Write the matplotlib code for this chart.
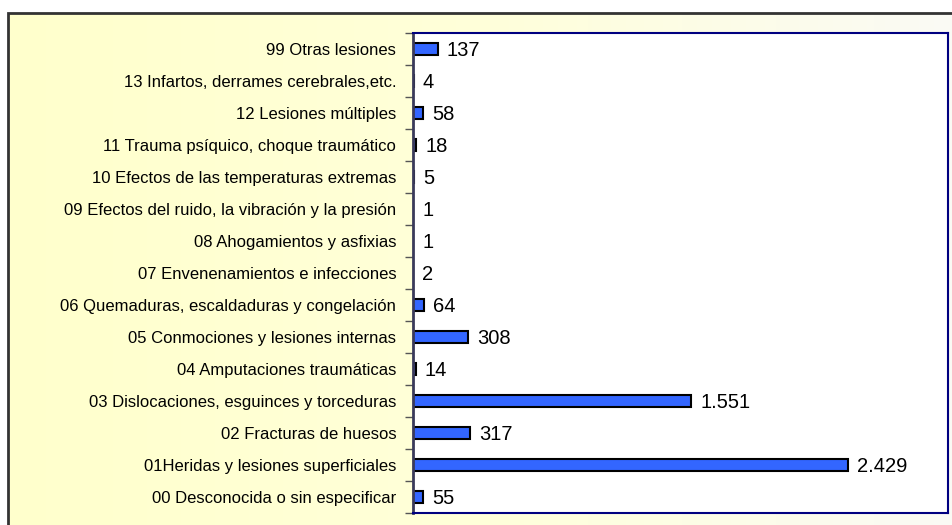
import numpy as np
import matplotlib.pyplot as plt
from matplotlib.colors import LinearSegmentedColormap
from matplotlib.patches import Rectangle

# ─── DATOS ────────────────────────────────────────
categorias = [
    "00 Desconocida o sin especificar",
    "01Heridas y lesiones superficiales",
    "02 Fracturas de huesos",
    "03 Dislocaciones, esguinces y torceduras",
    "04 Amputaciones traumáticas",
    "05 Conmociones y lesiones internas",
    "06 Quemaduras, escaldaduras y congelación",
    "07 Envenenamientos e infecciones",
    "08 Ahogamientos y asfixias",
    "09 Efectos del ruido, la vibración y la presión",
    "10 Efectos de las temperaturas extremas",
    "11 Trauma psíquico, choque traumático",
    "12 Lesiones múltiples",
    "13 Infartos, derrames cerebrales,etc.",
    "99 Otras lesiones",
]
valores = [55, 2429, 317, 1551, 14, 308, 64, 2, 1, 1, 5, 18, 58, 4, 137]
etiquetas = ["55", "2.429", "317", "1.551", "14", "308", "64", "2",
             "1", "1", "5", "18", "58", "4", "137"]

W, H = 953, 525
fig = plt.figure(figsize=(W / 100, H / 100), dpi=100)
plt.rcParams['font.family'] = ['Liberation Sans', 'DejaVu Sans']

# ─── FONDO (degradado amarillo claro) ─────────────
bg = fig.add_axes([0, 0, 1, 1], zorder=0)
bg.set_axis_off()
cmap = LinearSegmentedColormap.from_list("fondo", ["#FFFFCC", "#FFFFDA", "#FAFAF6"])
grad = np.linspace(0, 1, 256).reshape(1, -1)
top = 1 - 13 / H
bg.imshow(grad, cmap=cmap, aspect='auto', extent=[8 / W, 1.02, -0.02, top])
bg.add_patch(Rectangle((8 / W, -0.02), 1.02, top + 0.02, fill=False,
                       edgecolor='#333333', linewidth=2))
bg.set_xlim(0, 1)
bg.set_ylim(0, 1)

# ─── GRÁFICO ──────────────────────────────────────
x0, x1, y0, y1 = 413, 948, 33, 513
ax = fig.add_axes([x0 / W, 1 - y1 / H, (x1 - x0) / W, (y1 - y0) / H], zorder=1)
ax.set_facecolor('white')
y = np.arange(len(categorias))
ax.barh(y, valores, height=0.36, color='#3366FF', edgecolor='black',
        linewidth=1.5, zorder=2)
for yi, v, t in zip(y, valores, etiquetas):
    ax.annotate(t, (v, yi), textcoords="offset points", xytext=(6.5, -1),
                va='center', ha='left', fontsize=14.5, color='black')

ax.set_xlim(0, 2985)
ax.set_ylim(-0.5, len(categorias) - 0.5)
ax.set_xticks([])
ax.set_yticks(np.arange(-0.5, len(categorias), 1.0))
ax.set_yticklabels([])
ax.set_yticks(y, minor=True)
ax.set_yticklabels(categorias, minor=True, fontsize=12, color='black')
ax.tick_params(axis='y', which='major', length=6, width=1, color='#555555', direction='out')
ax.tick_params(axis='y', which='minor', length=0, pad=12)
for s in ax.spines.values():
    s.set_color('#000080')
    s.set_linewidth(1.5)
    s.set_zorder(4)
ax.spines['left'].set_color('#3a3a5a')
ax.spines['left'].set_linewidth(2)

fig.savefig('out.png', dpi=100)
